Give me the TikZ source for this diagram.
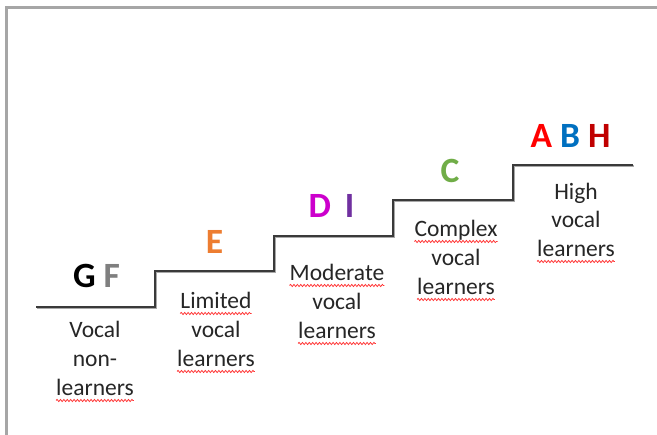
\documentclass[tikz,border=0pt]{standalone}
\usepackage{fontspec}
\setmainfont{Carlito}
\usetikzlibrary{decorations.pathmorphing}

\definecolor{framegray}{HTML}{A6A6A6}
\definecolor{stair}{HTML}{3A3A3A}
\definecolor{stairshadow}{HTML}{A8A8A8}
\definecolor{txt}{HTML}{262626}
\definecolor{cG}{HTML}{000000}
\definecolor{cF}{HTML}{7F7F7F}
\definecolor{cE}{HTML}{ED7D31}
\definecolor{cD}{HTML}{CC00CC}
\definecolor{cI}{HTML}{7030A0}
\definecolor{cC}{HTML}{70AD47}
\definecolor{cA}{HTML}{FF0000}
\definecolor{cB}{HTML}{0070C0}
\definecolor{cH}{HTML}{C00000}
\definecolor{spell}{HTML}{FF3333}

\begin{document}
\begin{tikzpicture}[x=1pt,y=-1pt,
  letters/.style={font=\fontsize{35.5}{40}\selectfont\bfseries, inner sep=0pt, anchor=base},
  word/.style={font=\fontsize{23.5}{28}\selectfont, text=txt, inner sep=0pt, anchor=base},
  squiggle/.style={draw=spell, line width=0.75pt, decorate,
    decoration={snake, amplitude=1.1pt, segment length=3.4pt}},
  stairline/.style={draw=stair, line width=1.6pt, line join=miter},
  stairshade/.style={draw=stairshadow, line width=1.8pt,
    transform canvas={shift={(1.3pt,-1.3pt)}}}]

\useasboundingbox (0,0) rectangle (657,435);
\fill[white] (0,0) rectangle (657,435);

% frame edges
\draw[framegray, line width=3pt] (6.5,435) -- (6.5,7.5) -- (657,7.5);

% staircase corners
\coordinate (s0) at (36,307);
\coordinate (s1) at (155,307);
\coordinate (s2) at (155,271);
\coordinate (s3) at (274,271);
\coordinate (s4) at (274,236);
\coordinate (s5) at (393,236);
\coordinate (s6) at (393,200);
\coordinate (s7) at (513,200);
\coordinate (s8) at (513,165);
\coordinate (s9) at (633,165);

\draw[stairshade] (s0) -- (s1) -- (s2) -- (s3) -- (s4) -- (s5) -- (s6) -- (s7) -- (s8) -- (s9);
\draw[stairline] (s0) -- (s1) -- (s2) -- (s3) -- (s4) -- (s5) -- (s6) -- (s7) -- (s8) -- (s9);

% letters on each step
\node[letters] (gf) at (96.5,288) {\textcolor{cG}{G} \textcolor{cF}{F}};
\node[letters, text=cE] (e) at (214.5,254) {E};
\node[letters] (di) at (331.5,218) {\textcolor{cD}{D}\hspace{14pt}\textcolor{cI}{I}};
\node[letters, text=cC] (c) at (450,183) {C};
\node[letters] (abh) at (570.5,148) {\textcolor{cA}{A} \textcolor{cB}{B} \textcolor{cH}{H}};

% step captions
\node[word] (l1a) at (95,338) {Vocal};
\node[word] (l1b) at (95,367) {non-};
\node[word] (l1c) at (95,396) {learners};

\node[word] (l2a) at (216,309) {Limited};
\node[word] (l2b) at (216,338) {vocal};
\node[word] (l2c) at (216,367) {learners};

\node[word] (l3a) at (337,281) {Moderate};
\node[word] (l3b) at (337,310) {vocal};
\node[word] (l3c) at (337,339) {learners};

\node[word] (l4a) at (456,237) {Complex};
\node[word] (l4b) at (456,266) {vocal};
\node[word] (l4c) at (456,295) {learners};

\node[word] (l5a) at (576,200) {High};
\node[word] (l5b) at (576,228) {vocal};
\node[word] (l5c) at (576,257) {learners};

% spell-check underlines
\foreach \n in {l1c,l2a,l2c,l3a,l3c,l4a,l4c,l5c}
  \draw[squiggle] ([yshift=-4.5pt]\n.base west) -- ([yshift=-4.5pt]\n.base east);

\end{tikzpicture}
\end{document}
